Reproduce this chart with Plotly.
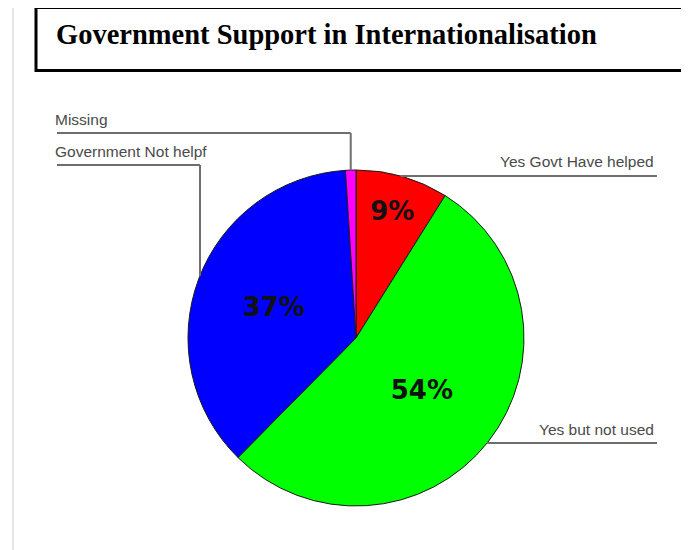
import math
import plotly.graph_objects as go

# ---- data ----
categories = ["Yes Govt Have helped", "Yes but not used", "Government Not helpf", "Missing"]
values = [8.9, 53.5, 36.6, 1.0]
colors = ["#ff0000", "#00ff00", "#0000ff", "#ff00ff"]
title_text = "Government Support in Internationalisation"

# page has an 8px body margin; figure sized to fit inside the 689x550 window
OFF = 8
W, H = 681, 542
CX, CY, R = 356, 338, 168  # pie centre / radius in window pixels


def px(x):
    return (x - OFF) / W


def py(y):
    return 1 - (y - OFF) / H


fig = go.Figure()
fig.add_trace(go.Pie(
    labels=categories,
    values=values,
    marker=dict(colors=colors, line=dict(color="#1a1a1a", width=1)),
    sort=False,
    direction="clockwise",
    rotation=0,
    textposition="inside",
    insidetextorientation="horizontal",
    texttemplate=["<b>%{percent:.0%}</b>", "<b>%{percent:.0%}</b>", "<b>%{percent:.0%}</b>", ""],
    textfont=dict(family="DejaVu Sans", size=26, color="#111111"),
    domain=dict(x=[px(CX - R), px(CX + R)], y=[py(CY + R), py(CY - R)]),
    showlegend=False,
    hoverinfo="label+percent",
))

shapes = []
annotations = []
line_style = dict(color="#6e6e6e", width=2)


def seg(x0, y0, x1, y1, style):
    shapes.append(dict(type="line", xref="paper", yref="paper",
                       x0=px(x0), y0=py(y0), x1=px(x1), y1=py(y1), line=style))


def label(text, x, y, anchor):
    annotations.append(dict(text=text, x=px(x), y=py(y), xref="paper", yref="paper",
                            xanchor=anchor, yanchor="middle", showarrow=False,
                            font=dict(family="Liberation Sans, Arial", size=15.5, color="#4a4a4a")))


total = sum(values)
# Missing: leader from mid-angle of slice
theta = 2 * math.pi * (1 - 0.5 * values[3] / total)
mx = CX + R * math.sin(theta)
my = CY - R * math.cos(theta)
label(categories[3], 53, 119, "left")
seg(57, 133, mx, 133, line_style)
seg(mx, 133, mx, my, line_style)

# Government Not helpf
gx = 200
gy = CY - math.sqrt(R ** 2 - (gx - CX) ** 2)
label(categories[2], 53, 151, "left")
seg(57, 165, gx, 165, line_style)
seg(gx, 165, gx, gy, line_style)

# Yes Govt Have helped
y1 = 176
x1 = CX + math.sqrt(R ** 2 - (y1 - CY) ** 2)
label(categories[0], 656, 162, "right")
seg(x1, y1, 657, y1, line_style)

# Yes but not used
y2 = 443
x2 = CX + math.sqrt(R ** 2 - (y2 - CY) ** 2)
label(categories[1], 656, 429, "right")
seg(x2, y2, 657, y2, line_style)

# title box (open on right edge)
box = dict(color="#000000", width=3)
seg(36, 7.5, 720, 7.5, box)
seg(36, 70.5, 720, 70.5, box)
seg(36, 6, 36, 72, box)
# faint page margin line
seg(13, 8, 13, 560, dict(color="#dcdcdc", width=1.5))

annotations.append(dict(text="<b>" + title_text + "</b>", x=px(54), y=py(34), xref="paper", yref="paper",
                        xanchor="left", yanchor="middle", showarrow=False,
                        font=dict(family="Liberation Serif", size=28.5, color="#000000")))

fig.update_layout(
    width=W, height=H,
    margin=dict(l=0, r=0, t=0, b=0),
    paper_bgcolor="white", plot_bgcolor="white",
    shapes=shapes, annotations=annotations,
)

fig.write_html("out.html")
